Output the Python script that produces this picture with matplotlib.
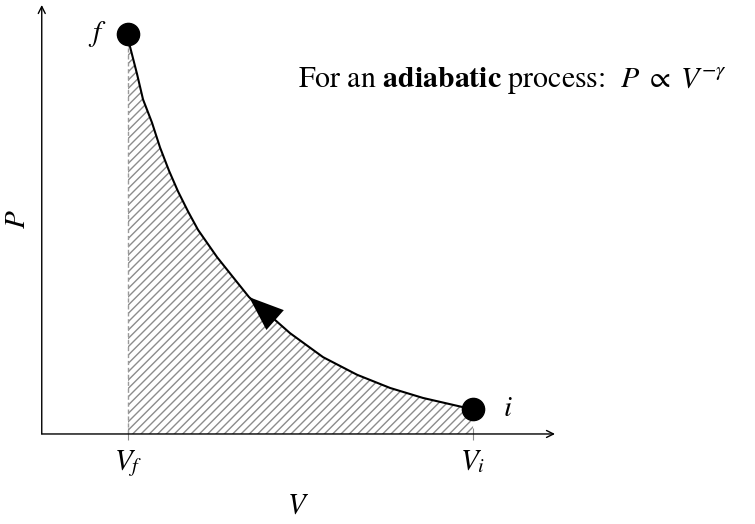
import matplotlib.pyplot as plt

plt.rcParams["font.family"] = "STIXGeneral"
plt.rcParams["mathtext.fontset"] = "stix"
plt.rcParams["hatch.color"] = "#8c8c8c"
plt.rcParams["hatch.linewidth"] = 1.0

# points read along the adiabat, from final state f to initial state i
volume = [1.00, 1.023, 1.104, 1.174, 1.278, 1.371, 1.475, 1.580, 1.696,
          1.812, 2.032, 2.217, 2.403, 2.878, 3.261, 3.655, 4.038, 4.420,
          4.884, 5.00]
pressure = [5.00, 4.84, 4.50, 4.18, 3.89, 3.58, 3.29, 3.03, 2.78,
            2.55, 2.21, 1.96, 1.71, 1.26, 0.96, 0.74, 0.575, 0.45,
            0.335, 0.3125]

v_ticks = [1.0, 5.0]
v_tick_labels = [r"$V_f$", r"$V_i$"]

fig = plt.figure(figsize=(7.55, 5.24), dpi=100)
ax = fig.add_axes([0.0553, 0.1718, 0.6798, 0.8187])
ax.set_xlim(0, 5.95)
ax.set_ylim(0, 5.36)

# work done: hatched area under the curve
ax.fill_between(volume, pressure, 0, facecolor="none", hatch="////",
                edgecolor="#8c8c8c", linewidth=0)
ax.plot([volume[0], volume[0]], [0, pressure[0]], color="#9a9a9a",
        lw=1.0, ls=(0, (3, 2)))

ax.plot(volume, pressure, color="black", lw=1.5, solid_joinstyle="round")

# direction of the process, i -> f
ax.annotate("", xy=(volume[12], pressure[12]),
            xytext=(volume[13], pressure[13]),
            arrowprops=dict(arrowstyle="-|>,head_length=2.5,head_width=0.95",
                            color="black", lw=0, shrinkA=0, shrinkB=0))

ax.plot([volume[0], volume[-1]], [pressure[0], pressure[-1]], "o",
        color="black", markersize=16)
ax.text(0.64, pressure[0], r"$f$", fontsize=21, ha="center", va="center")
ax.text(5.4, pressure[-1], r"$i$", fontsize=21, ha="center", va="center")

# axes drawn as arrows
for spine in ax.spines.values():
    spine.set_visible(False)
ax.annotate("", xy=(5.95, 0), xytext=(0, 0), annotation_clip=False,
            arrowprops=dict(arrowstyle="->,head_length=0.5,head_width=0.25",
                            color="black", lw=1.0, shrinkA=0, shrinkB=0))
ax.annotate("", xy=(0, 5.36), xytext=(0, 0), annotation_clip=False,
            arrowprops=dict(arrowstyle="->,head_length=0.5,head_width=0.25",
                            color="black", lw=1.0, shrinkA=0, shrinkB=0))

ax.set_xticks(v_ticks, v_tick_labels, fontsize=21)
ax.tick_params(axis="x", direction="inout", length=8, color="#8c8c8c",
               pad=6)
ax.set_yticks([])
ax.set_xlabel(r"$V$", fontsize=21, labelpad=11)
ax.set_ylabel(r"$P$", fontsize=21, labelpad=8)

fig.text(298 / 755, 1 - 87 / 524,
         r"For an $\mathbf{adiabatic}$ process:  $P \;\propto\; V^{-\gamma}$",
         fontsize=21.5, ha="left", va="baseline")

fig.savefig("out.png", dpi=100)
